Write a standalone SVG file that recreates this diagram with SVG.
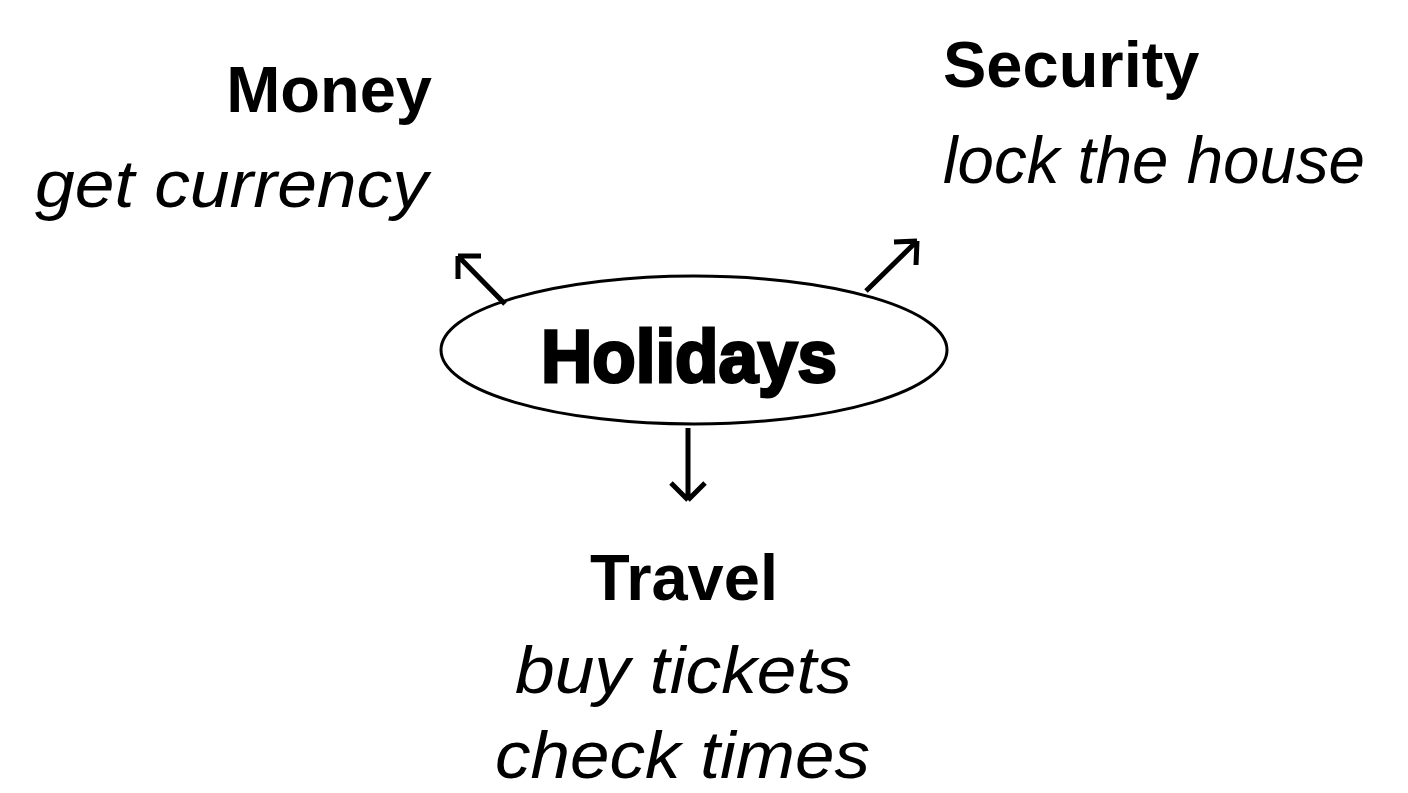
<svg xmlns="http://www.w3.org/2000/svg" width="1408" height="793" viewBox="0 0 1408 793">
<style>
.h{font-family:"Liberation Sans",Arial,sans-serif;font-weight:bold;font-size:65px;fill:#000}
.s{font-family:"Liberation Sans",Arial,sans-serif;font-style:italic;font-size:67px;fill:#000}
.c{stroke:#000;stroke-width:5;fill:none;stroke-linecap:butt;stroke-linejoin:miter}
</style>
<rect width="1408" height="793" fill="#fff"/>
<g id="holidays">
<ellipse cx="694" cy="350" rx="253" ry="74" fill="#fff" stroke="#000" stroke-width="3"/>
<text x="689" y="382" text-anchor="middle" font-family="Liberation Sans,Arial,sans-serif" font-weight="bold" font-size="75" stroke="#000" stroke-width="3" textLength="296" lengthAdjust="spacingAndGlyphs">Holidays</text>
</g>
<g id="money">
<text class="h" x="432" y="112" text-anchor="end">Money</text>
<text class="s" x="35" y="207" textLength="393" lengthAdjust="spacingAndGlyphs">get currency</text>
</g>
<g id="security">
<text class="h" x="943" y="87">Security</text>
<text class="s" x="943" y="183" textLength="422" lengthAdjust="spacingAndGlyphs">lock the house</text>
</g>
<g id="travel">
<text class="h" x="684" y="600" text-anchor="middle">Travel</text>
<text class="s" x="515" y="693" textLength="337" lengthAdjust="spacingAndGlyphs">buy tickets</text>
<text class="s" x="495" y="778" textLength="375" lengthAdjust="spacingAndGlyphs">check times</text>
</g>
<g id="connectors">
<path class="c" d="M505 304 L458 256 M458 256 L458 279 M458 256 L481 256"/>
<path class="c" d="M866 291 L917 241 M917 241 L894 242 M917 241 L916 265"/>
<path class="c" d="M688 428 L688 500 M688 500 L671 483 M688 500 L705 483"/>
</g>
</svg>
